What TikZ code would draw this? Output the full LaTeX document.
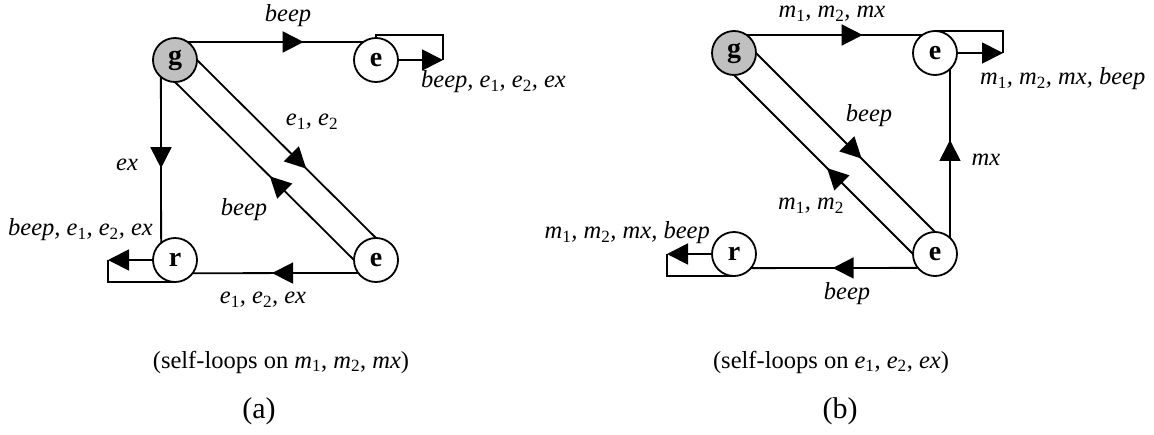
\documentclass[tikz,border=0pt]{standalone}
\usepackage{fontspec}
\setmainfont{Liberation Serif}
\usetikzlibrary{arrows.meta,decorations.markings,calc}
\definecolor{nodegray}{RGB}{192,192,192}
\newcommand\subs[1]{\textsubscript{\upshape #1}}
\tikzset{
  Tri/.tip={Triangle[length=21pt,width=21pt]},
  state/.style={circle,draw,line width=1.8pt,minimum size=44pt,inner sep=0pt,outer sep=0pt,
                font=\fontsize{28}{30}\selectfont\bfseries},
  init/.style={state,fill=nodegray},
  conn/.style={line width=1.8pt},
  endarrow/.style={conn,-Tri},
  midarrow/.style={conn,postaction={decorate,decoration={markings,
      mark=at position #1 with {\arrow{Tri}}}}},
  lab/.style={inner sep=0pt,font=\fontsize{24.5}{27}\selectfont\itshape},
  caption/.style={inner sep=0pt,font=\fontsize{24.5}{27}\selectfont},
  panel/.style={inner sep=0pt,font=\fontsize{30}{32}\selectfont}
}
\begin{document}
\begin{tikzpicture}[x=1pt,y=-1pt]
\useasboundingbox (0,0) rectangle (1154,434);

% ---------- panel (a) ----------
\node[init]  (ga) at (175,60)  {g};
\node[state] (ea) at (376,60)  {e};
\node[state] (fa) at (376,260) {e};
\node[state] (ra) at (175,260) {r};

% g -> e
\draw[midarrow=0.66] (ga.55) -- (ea.125);
\node[lab] at (288,16) {beep};

% self-loop on the upper e
\coordinate (ealoop) at ($(ea.east)+(45,0)$);
\draw[endarrow] (ea.east) -- (ealoop);
\draw[conn] (ealoop) |- ($(ea.north)+(0,-3)$) -- (ea.north);
\node[lab,anchor=west] at (421,82) {beep, e\subs{1}, e\subs{2}, ex};

% g -> r
\draw[midarrow=0.55] (ga.230.5) -- (ra.129.5);
\node[lab] at (127,165) {ex};

% self-loop on r
\coordinate (raloop) at ($(ra.west)+(-45,0)$);
\draw[endarrow] (ra.west) -- (raloop);
\draw[conn] (raloop) |- (ra.south);
\node[lab,anchor=east] at (153,230) {beep, e\subs{1}, e\subs{2}, ex};

% g -> lower e
\draw[midarrow=0.61] (ga.east) -- (fa.north);
\node[lab] at (312,122) {e\subs{1}, e\subs{2}};

% lower e -> g
\draw[midarrow=0.47] (fa.west) -- (ga.south);
\node[lab] at (244,210) {beep};

% lower e -> r
\draw[midarrow=0.52] (fa.216.2) -- (ra.323.8);
\node[lab] at (263,300) {e\subs{1}, e\subs{2}, ex};

\node[caption] at (281,362) {(self-loops on \textit{m}\subs{1}, \textit{m}\subs{2}, \textit{mx})};
\node[panel] at (259,411) {(a)};

% ---------- panel (b) ----------
\node[init]  (gb) at (734,53)  {g};
\node[state] (eb) at (935,53)  {e};
\node[state] (fb) at (935,254) {e};
\node[state] (rb) at (734,254) {r};

% g -> e
\draw[midarrow=0.66] (gb.55) -- (eb.125);
\node[lab] at (832,14) {m\subs{1}, m\subs{2}, mx};

% self-loop on the upper e
\coordinate (ebloop) at ($(eb.east)+(46,0)$);
\draw[endarrow] (eb.east) -- (ebloop);
\draw[conn] (ebloop) |- (eb.north);
\node[lab,anchor=west] at (980,79) {m\subs{1}, m\subs{2}, mx, beep};

% lower e -> upper e
\draw[midarrow=0.58] (fb.47) -- (eb.313);
\node[lab] at (986,160) {mx};

% g -> lower e
\draw[midarrow=0.59] (gb.east) -- (fb.north);
\node[lab] at (869,116) {beep};

% lower e -> g
\draw[midarrow=0.48] (fb.west) -- (gb.south);
\node[lab] at (811,206) {m\subs{1}, m\subs{2}};

% lower e -> r
\draw[midarrow=0.51] (fb.219.5) -- (rb.320.5);
\node[lab] at (847,294) {beep};

% self-loop on r
\coordinate (rbloop) at ($(rb.west)+(-45,0)$);
\draw[endarrow] (rb.west) -- (rbloop);
\draw[conn] (rbloop) |- (rb.south);
\node[lab,anchor=east] at (710,233) {m\subs{1}, m\subs{2}, mx, beep};

\node[caption] at (831,362) {(self-loops on \textit{e}\subs{1}, \textit{e}\subs{2}, \textit{ex})};
\node[panel] at (840,411) {(b)};
\end{tikzpicture}
\end{document}
